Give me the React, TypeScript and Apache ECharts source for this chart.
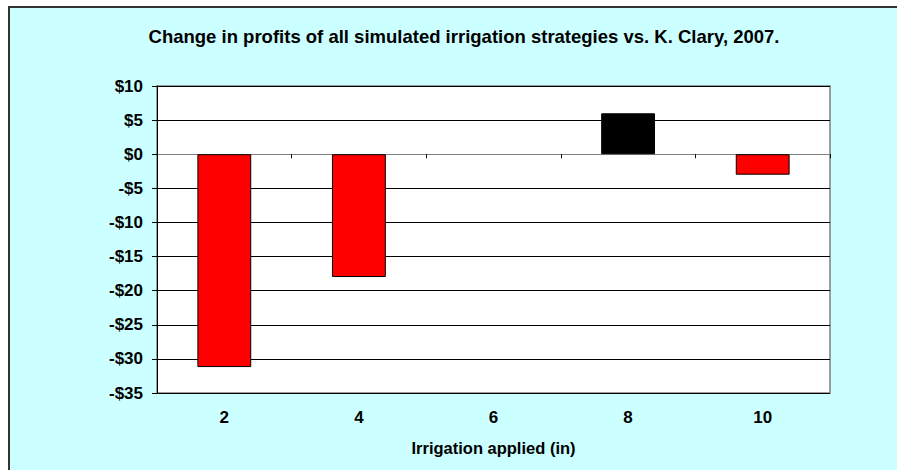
import React, { useEffect, useRef } from "react";
import * as echarts from "echarts";

const categories = ["2", "4", "6", "8", "10"];
const profitChange = [-31.2, -18, 0, 6, -3];
const yTicks = { min: -35, max: 10, interval: 5 };
const titleText = "Change in profits of all simulated irrigation strategies vs. K. Clary, 2007.";
const xAxisName = "Irrigation applied (in)";

const FONT = "'Liberation Sans', Arial, sans-serif";

export default function App() {
  const ref = useRef<HTMLDivElement>(null);
  useEffect(() => {
    if (!ref.current) return;
    const chart = echarts.init(ref.current, null, { renderer: "svg" });
    const barData = profitChange.map((v) => ({
      value: v,
      itemStyle: {
        color: v > 0 ? "#000000" : "#FF0000",
        borderColor: "#000000",
        borderWidth: v === 0 ? 0 : 1,
      },
    }));
    chart.setOption({
      animation: false,
      backgroundColor: "#ffffff",
      graphic: [
        {
          type: "rect",
          z: -10,
          silent: true,
          shape: { x: 9, y: 7, width: 1000, height: 600 },
          style: { fill: "#CCFFFF", stroke: "#333333", lineWidth: 2 },
        },
      ],
      title: {
        text: titleText,
        left: 459,
        top: 22,
        textAlign: "center",
        textStyle: { fontFamily: FONT, fontWeight: "bold", fontSize: 18.5, color: "#000" },
      },
      grid: {
        left: 157,
        right: 67,
        top: 86,
        bottom: 77,
        show: true,
        backgroundColor: "#ffffff",
        borderColor: "#808080",
        borderWidth: 1.5,
      },
      xAxis: [
        {
          type: "category",
          data: categories,
          position: "bottom",
          axisLine: { show: true, onZero: true, lineStyle: { color: "#808080", width: 1 } },
          axisTick: { show: true, inside: false, length: 4, lineStyle: { color: "#000" } },
          axisLabel: { show: false },
          splitLine: { show: false },
        },
        {
          type: "category",
          data: categories,
          position: "bottom",
          axisLine: { show: false, onZero: false },
          axisTick: { show: false },
          axisLabel: {
            show: true,
            margin: 16,
            fontFamily: FONT,
            fontWeight: "bold",
            fontSize: 17,
            color: "#000",
          },
          name: xAxisName,
          nameLocation: "middle",
          nameGap: 46,
          nameTextStyle: { fontFamily: FONT, fontWeight: "bold", fontSize: 16.5, color: "#000" },
          splitLine: { show: false },
        },
      ],
      yAxis: {
        type: "value",
        min: yTicks.min,
        max: yTicks.max,
        interval: yTicks.interval,
        axisLine: { show: true, lineStyle: { color: "#000", width: 1 } },
        axisTick: { show: true, length: 5, lineStyle: { color: "#000" } },
        axisLabel: {
          margin: 14,
          fontFamily: FONT,
          fontWeight: "bold",
          fontSize: 17,
          color: "#000",
          formatter: (v: number) => (v < 0 ? "-" : "") + "$" + Math.abs(v),
        },
        splitLine: { show: true, lineStyle: { color: "#000", width: 1 } },
      },
      series: [
        {
          type: "bar",
          xAxisIndex: 0,
          data: barData,
          barCategoryGap: "60%",
        },
      ],
    });
    return () => chart.dispose();
  }, []);
  return (
    <div
      ref={ref}
      style={{ position: "absolute", left: 0, top: 0, width: 897, height: 470 }}
    />
  );
}
